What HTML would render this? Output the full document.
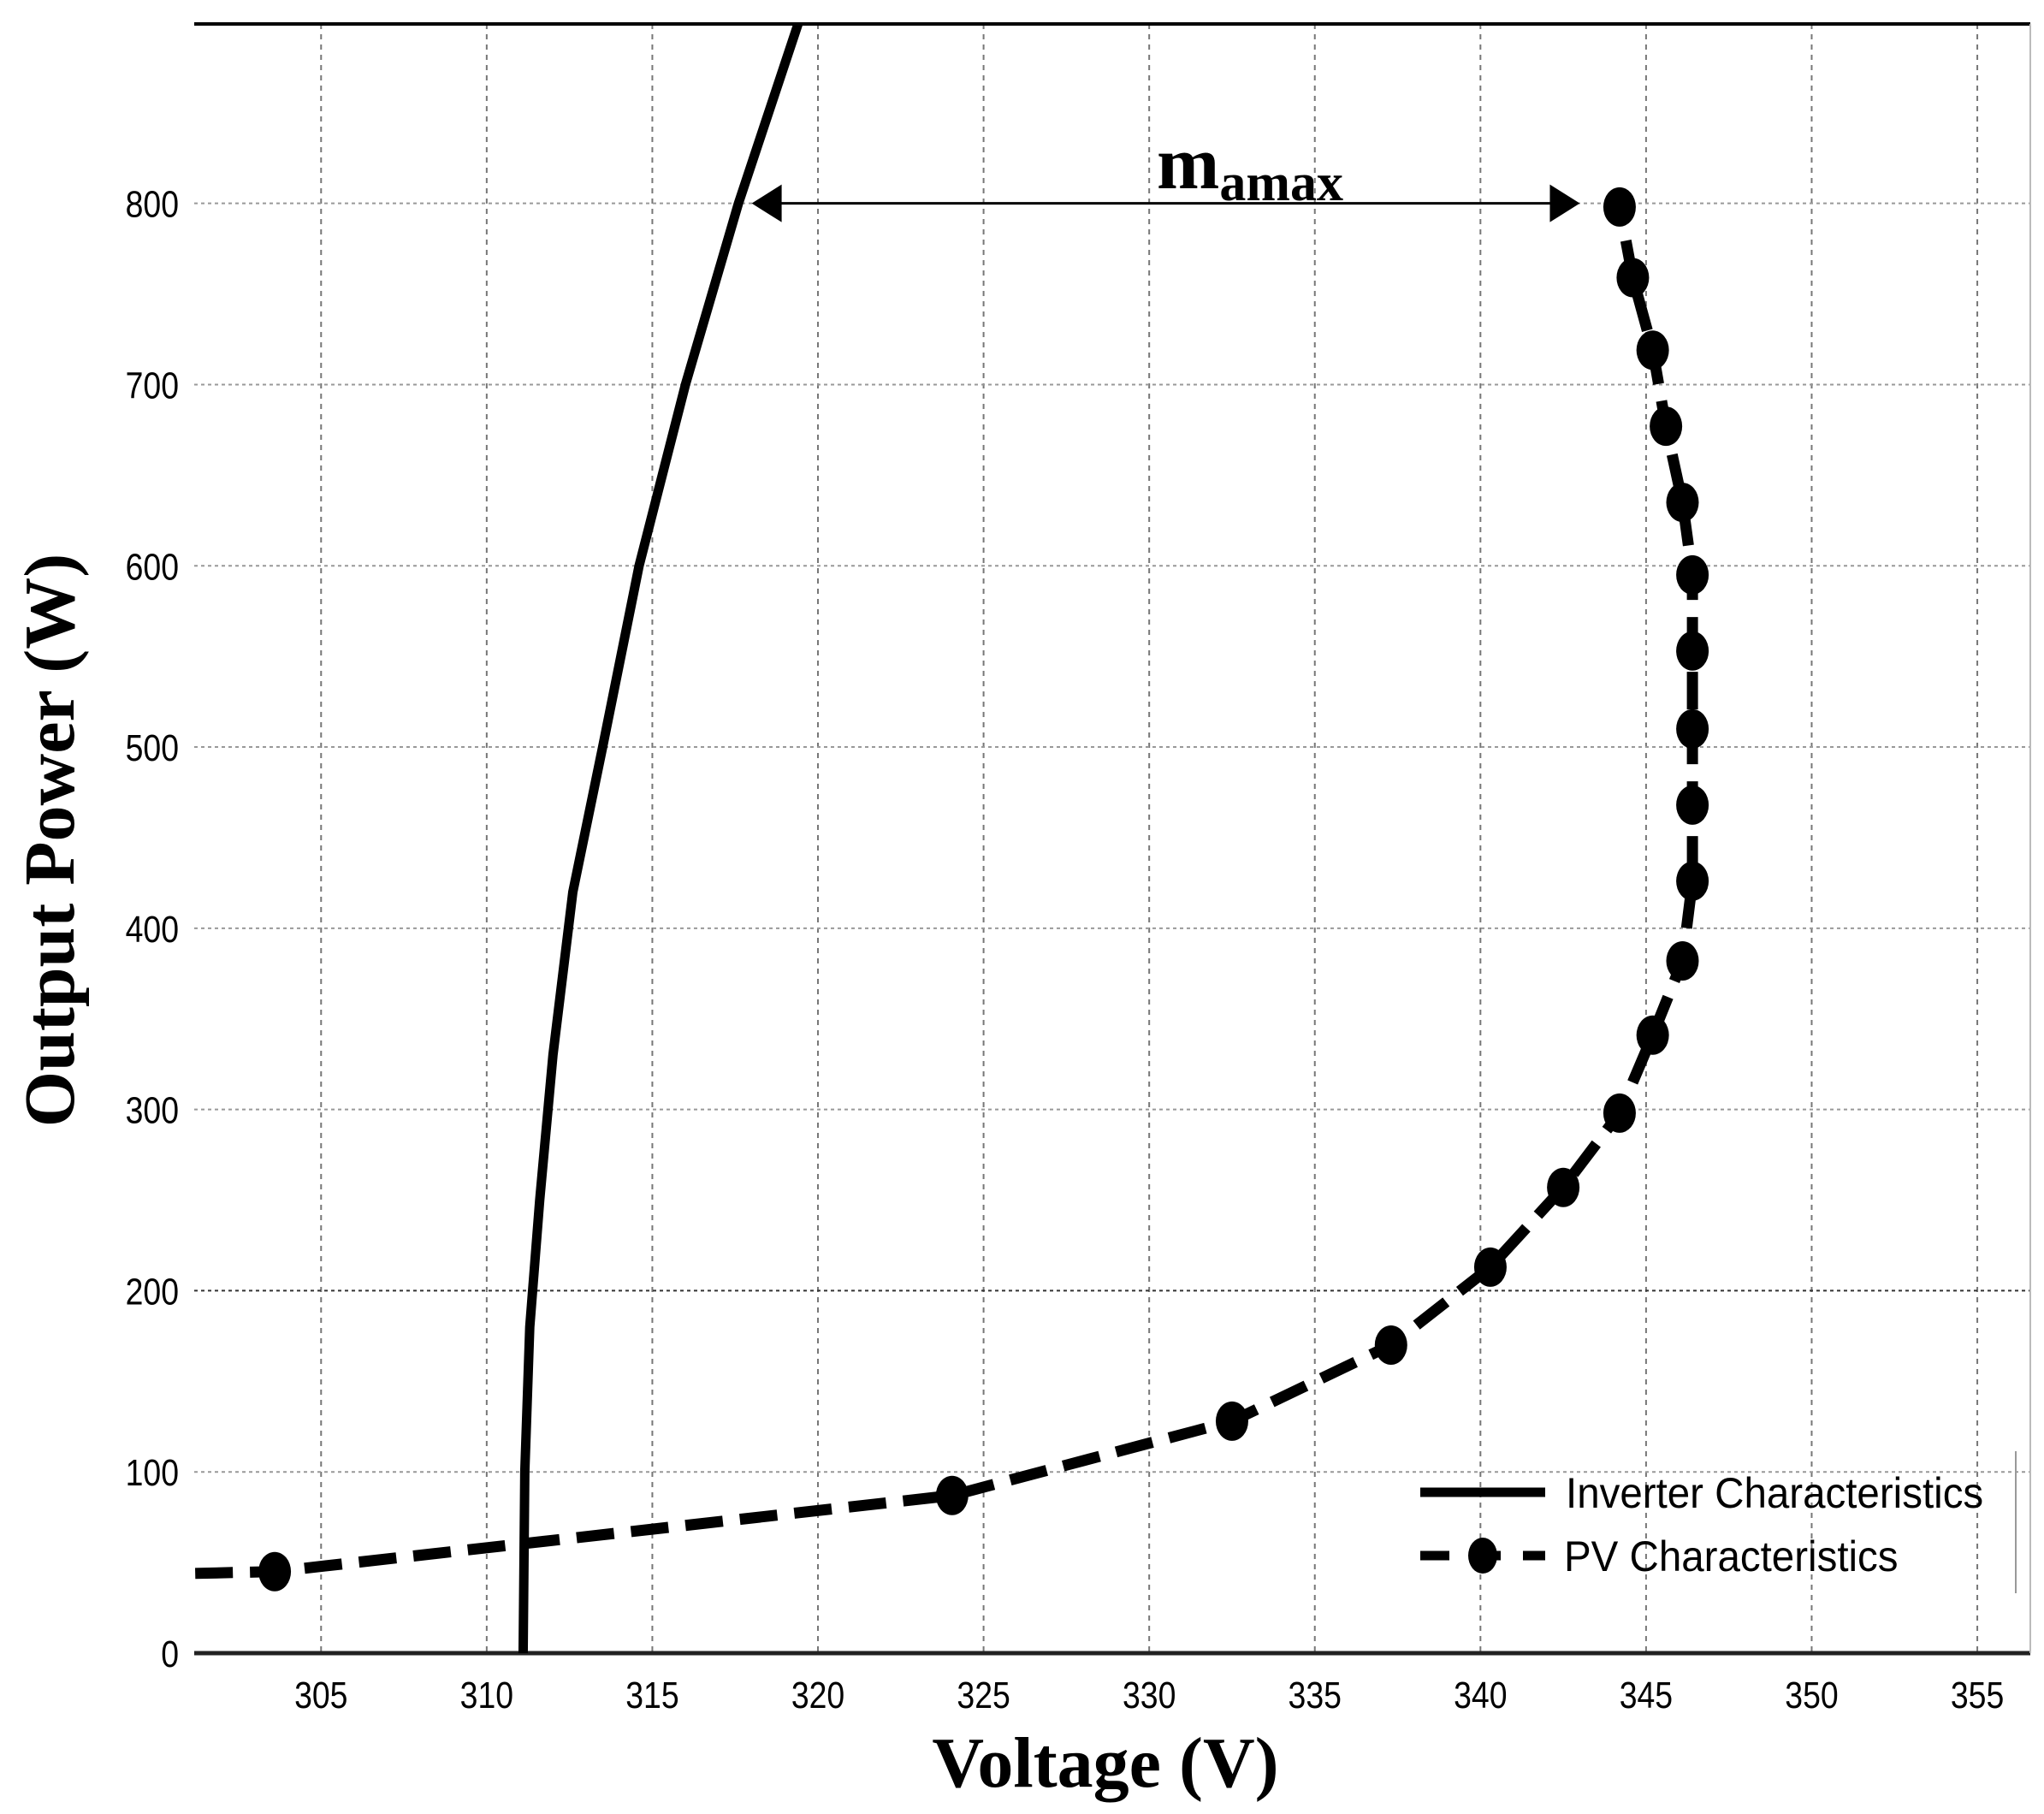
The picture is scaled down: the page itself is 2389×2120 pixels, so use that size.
<!DOCTYPE html>
<html><head><meta charset="utf-8"><style>
html,body{margin:0;padding:0;background:#fff;}
svg{display:block;}
</style></head><body>
<svg id="chart" width="2389" height="2120" viewBox="0 0 2389 2120" xmlns="http://www.w3.org/2000/svg">
<g id="grid"></g>
<g id="axes"></g>
<g id="series"></g>
<g id="annot"></g>
<g id="legend"></g>
</svg>
<script>
const xTicks = [305,310,315,320,325,330,335,340,345,350,355];
const yTicks = [0,100,200,300,400,500,600,700,800];
const invV = [311.1,311.15,311.3,311.6,312.0,312.6,313.5,314.6,316.0,317.6,319.4];
const invP = [0,100,180,250,330,420,500,600,700,800,899];
const pvLineV = [301.2];
const pvLineP = [44];
const pvV = [303.6,324.05,332.5,337.3,340.3,342.5,344.2,345.2,346.1,346.4,346.4,346.4,346.4,346.4,346.1,345.6,345.2,344.6,344.2];
const pvP = [45,87,128,170,213,257,298,341,382,426,468,510,553,595,635,677,719,759,798];
const arrowP = 800;
const arrowFrom = 318.0;
const arrowTo = 343.0;

const NS='http://www.w3.org/2000/svg';
const L=227,R=2373,T=28,B=1932;
const xmin=301.17,xmax=356.6,ymin=0,ymax=899;
const X=v=>L+(v-xmin)/(xmax-xmin)*(R-L);
const Y=p=>B-(p-ymin)/(ymax-ymin)*(B-T);
function mk(tag,attrs,parent){const e=document.createElementNS(NS,tag);for(const k in attrs)e.setAttribute(k,attrs[k]);parent.appendChild(e);return e;}
const grid=document.getElementById('grid'),axes=document.getElementById('axes'),series=document.getElementById('series'),annot=document.getElementById('annot'),legend=document.getElementById('legend');

xTicks.forEach(v=>{
  const g=mk('line',{x1:X(v),x2:X(v),y1:T,y2:B,stroke:'#777','stroke-width':2,'stroke-dasharray':'6 6'},grid);
  
  
  const t=mk('text',{x:0,y:0,'font-family':'Liberation Sans, sans-serif','font-size':44,'text-anchor':'middle',transform:`translate(${X(v)},${B+64}) scale(0.85,1)`},axes);
  t.textContent=v;
  
  
});
yTicks.forEach(p=>{
  if(p>0){
    const g=mk('line',{x1:L,x2:R,y1:Y(p),y2:Y(p),stroke:p===200?'#333':'#999','stroke-width':2,'stroke-dasharray':'4 4'},grid);
    
    
  }
  const t=mk('text',{x:0,y:0,'font-family':'Liberation Sans, sans-serif','font-size':44,'text-anchor':'end',transform:`translate(${L-18},${Y(p)+16}) scale(0.85,1)`},axes);
  t.textContent=p;
  
  
});
let e;
e=mk('line',{x1:L,x2:R,y1:T,y2:T,stroke:'#000','stroke-width':4},axes);


e=mk('line',{x1:L,x2:R,y1:B,y2:B,stroke:'#222','stroke-width':5},axes);


e=mk('line',{x1:R,x2:R,y1:T,y2:B,stroke:'#bbb','stroke-width':2},axes);


e=mk('text',{x:1292,y:2088,'font-family':'Liberation Serif, serif','font-size':84,'font-weight':'bold','text-anchor':'middle'},axes);
e.textContent='Voltage (V)';


e=mk('text',{x:0,y:0,'font-family':'Liberation Serif, serif','font-size':84,'font-weight':'bold','text-anchor':'middle',transform:'translate(86,982) rotate(-90)'},axes);
e.textContent='Output Power (W)';



e=mk('polyline',{points:invV.map((v,i)=>X(v)+','+Y(invP[i])).join(' '),fill:'none',stroke:'#000','stroke-width':11,'stroke-linejoin':'round'},series);


const allV=pvLineV.concat(pvV),allP=pvLineP.concat(pvP);
e=mk('polyline',{points:allV.map((v,i)=>X(v)+','+Y(allP[i])).join(' '),fill:'none',stroke:'#000','stroke-width':13,'stroke-dasharray':'44 20'},series);


pvV.forEach((v,i)=>{
  const m=mk('ellipse',{cx:X(v),cy:Y(pvP[i]),rx:19,ry:23,fill:'#000'},series);
  
  
});

const ay=Y(arrowP),ax1=X(arrowFrom),ax2=X(arrowTo);
e=mk('line',{x1:ax1+30,x2:ax2-30,y1:ay,y2:ay,stroke:'#000','stroke-width':3},annot);


e=mk('polygon',{points:`${ax1},${ay} ${ax1+35},${ay-22} ${ax1+35},${ay+22}`,fill:'#000'},annot);


e=mk('polygon',{points:`${ax2},${ay} ${ax2-35},${ay-22} ${ax2-35},${ay+22}`,fill:'#000'},annot);


e=mk('text',{x:1352,y:220,'font-family':'Liberation Serif, serif','font-size':88,'font-weight':'bold'},annot);
e.innerHTML='m<tspan font-size="62" dy="14">amax</tspan>';



e=mk('line',{x1:1660,x2:1806,y1:1744,y2:1744,stroke:'#000','stroke-width':11},legend);


e=mk('text',{x:0,y:0,'font-family':'Liberation Sans, sans-serif','font-size':50,transform:'translate(1830,1762) scale(0.95,1)'},legend);
e.textContent='Inverter Characteristics';


e=mk('line',{x1:1660,x2:1806,y1:1818,y2:1818,stroke:'#000','stroke-width':11,'stroke-dasharray':'34 26'},legend);


e=mk('ellipse',{cx:1733,cy:1818,rx:17,ry:21,fill:'#000'},legend);


e=mk('text',{x:0,y:0,'font-family':'Liberation Sans, sans-serif','font-size':50,transform:'translate(1828,1836) scale(0.95,1)'},legend);
e.textContent='PV Characteristics';


e=mk('line',{x1:2356,x2:2356,y1:1696,y2:1862,stroke:'#999','stroke-width':2},legend);


</script>
</body></html>
